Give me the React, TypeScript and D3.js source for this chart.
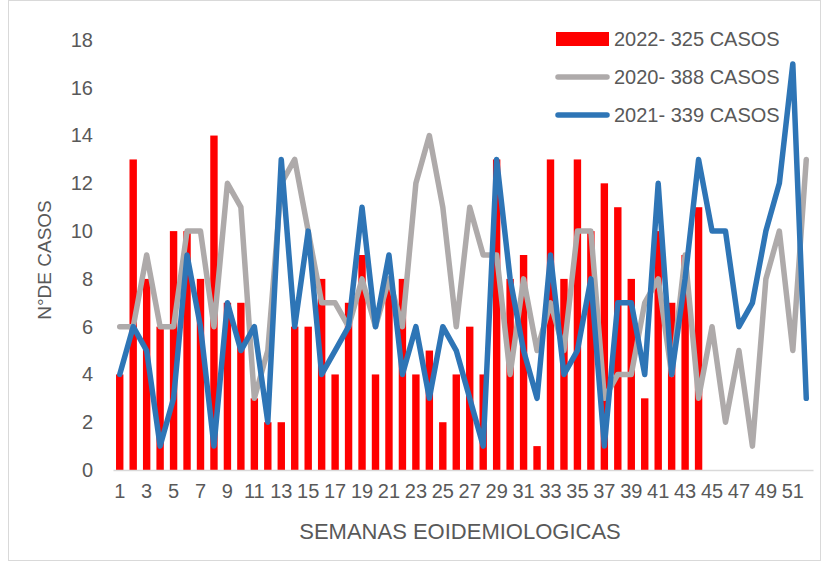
import { useRef, useEffect } from "react";
import * as d3 from "d3";

const weeks = [
  1, 2, 3, 4, 5, 6, 7, 8, 9, 10, 11, 12, 13, 14, 15, 16, 17, 18, 19, 20, 21, 22, 23, 24, 25, 26,
  27, 28, 29, 30, 31, 32, 33, 34, 35, 36, 37, 38, 39, 40, 41, 42, 43, 44, 45, 46, 47, 48, 49, 50, 51, 52,
];

// 2022 only reaches week 44
const casos2022 = [
  4, 13, 8, 6, 10, 10, 8, 14, 7, 7, 3, 2, 2, 6, 6, 8, 4, 7, 9, 4, 8, 8, 4, 5, 2, 4,
  6, 4, 13, 8, 9, 1, 13, 8, 13, 10, 12, 11, 8, 3, 10, 7, 9, 11,
];

const casos2020 = [
  6, 6, 9, 6, 6, 10, 10, 6, 12, 11, 3, 5, 12, 13, 10, 7, 7, 6, 8, 6, 8, 6, 12, 14, 11, 6,
  11, 9, 9, 4, 8, 5, 7, 5, 10, 10, 3, 4, 4, 7, 8, 4, 9, 3, 6, 2, 5, 1, 8, 10, 5, 13,
];

const casos2021 = [
  4, 6, 5, 1, 3, 9, 6, 1, 7, 5, 6, 2, 13, 6, 10, 4, 5, 6, 11, 6, 9, 4, 6, 3, 6, 5,
  3, 1, 13, 8, 5, 3, 9, 4, 5, 8, 1, 7, 7, 4, 12, 4, 8, 13, 10, 10, 6, 7, 10, 12, 17, 3,
];

const yTicks = [0, 2, 4, 6, 8, 10, 12, 14, 16, 18];
const xTicks = weeks.filter((w) => w % 2 === 1);

const legendItems = [
  { label: "2022- 325 CASOS", color: "#ff0000", kind: "bar" },
  { label: "2020- 388 CASOS", color: "#aeaaaa", kind: "line" },
  { label: "2021- 339 CASOS", color: "#2e75b6", kind: "line" },
];

export default function App() {
  const svgRef = useRef<SVGSVGElement>(null);

  useEffect(() => {
    if (!svgRef.current) return;

    const width = 829;
    const height = 564;
    const margin = { top: 40, right: 16, bottom: 94, left: 113 };
    const font = "'Liberation Sans', Arial, sans-serif";
    const textColor = "#595959";

    const svg = d3.select(svgRef.current);
    svg.selectAll("*").remove();
    svg.attr("width", width).attr("height", height);

    svg
      .append("rect")
      .attr("x", 8.5)
      .attr("y", 0.5)
      .attr("width", 812)
      .attr("height", 560)
      .attr("fill", "#fff")
      .attr("stroke", "#d9d9d9");

    const x = d3
      .scaleBand<number>()
      .domain(weeks)
      .range([margin.left, width - margin.right])
      .paddingInner(0.45)
      .paddingOuter(0.225);

    const y = d3
      .scaleLinear()
      .domain([0, 18])
      .range([height - margin.bottom, margin.top]);

    const cx = (w: number) => (x(w) ?? 0) + x.bandwidth() / 2;

    // bars 2022
    svg
      .append("g")
      .selectAll("rect")
      .data(casos2022)
      .join("rect")
      .attr("x", (_, i) => x(weeks[i]) ?? 0)
      .attr("y", (d) => y(d))
      .attr("width", x.bandwidth())
      .attr("height", (d) => y(0) - y(d))
      .attr("fill", "#ff0000");

    // x axis
    svg
      .append("g")
      .attr("transform", `translate(0, ${y(0)})`)
      .call(d3.axisBottom(x).tickValues(xTicks).tickSize(0).tickPadding(14))
      .call((g) => g.select(".domain").attr("stroke", "#d9d9d9").attr("stroke-width", 1.5))
      .call((g) =>
        g
          .selectAll("text")
          .attr("fill", textColor)
          .attr("font-family", font)
          .attr("font-size", 20)
      );

    // y axis
    svg
      .append("g")
      .attr("transform", `translate(${margin.left - 20}, 0)`)
      .call(d3.axisLeft(y).tickValues(yTicks).tickSize(0).tickPadding(0))
      .call((g) => g.select(".domain").remove())
      .call((g) =>
        g
          .selectAll("text")
          .attr("fill", textColor)
          .attr("font-family", font)
          .attr("font-size", 20)
      );

    const lineGen = d3
      .line<number>()
      .x((_, i) => cx(weeks[i]))
      .y((d) => y(d));

    svg
      .append("path")
      .datum(casos2020)
      .attr("fill", "none")
      .attr("stroke", "#aeaaaa")
      .attr("stroke-width", 5.5)
      .attr("stroke-linejoin", "round")
      .attr("stroke-linecap", "round")
      .attr("d", lineGen);

    svg
      .append("path")
      .datum(casos2021)
      .attr("fill", "none")
      .attr("stroke", "#2e75b6")
      .attr("stroke-width", 5.5)
      .attr("stroke-linejoin", "round")
      .attr("stroke-linecap", "round")
      .attr("d", lineGen);

    // axis titles
    svg
      .append("text")
      .attr("x", 460)
      .attr("y", 539)
      .attr("text-anchor", "middle")
      .attr("fill", textColor)
      .attr("font-family", font)
      .attr("font-size", 22)
      .text("SEMANAS EOIDEMIOLOGICAS");

    svg
      .append("text")
      .attr("transform", "translate(51, 260) rotate(-90)")
      .attr("text-anchor", "middle")
      .attr("fill", textColor)
      .attr("font-family", font)
      .attr("font-size", 19)
      .text("N°DE CASOS");

    // legend
    const legend = svg.append("g").attr("transform", "translate(556, 39)");
    legendItems.forEach((item, i) => {
      const row = legend.append("g").attr("transform", `translate(0, ${i * 38})`);
      if (item.kind === "bar") {
        row.append("rect").attr("x", 0).attr("y", -7).attr("width", 53).attr("height", 14).attr("fill", item.color);
      } else {
        row
          .append("line")
          .attr("x1", 2)
          .attr("x2", 51)
          .attr("y1", 0)
          .attr("y2", 0)
          .attr("stroke", item.color)
          .attr("stroke-width", 5.5)
          .attr("stroke-linecap", "round");
      }
      row
        .append("text")
        .attr("x", 58)
        .attr("y", 7)
        .attr("fill", textColor)
        .attr("font-family", font)
        .attr("font-size", 20)
        .text(item.label);
    });
  }, []);

  return (
    <div style={{ position: "absolute", left: 0, top: 0 }}>
      <svg ref={svgRef} style={{ display: "block" }} />
    </div>
  );
}
